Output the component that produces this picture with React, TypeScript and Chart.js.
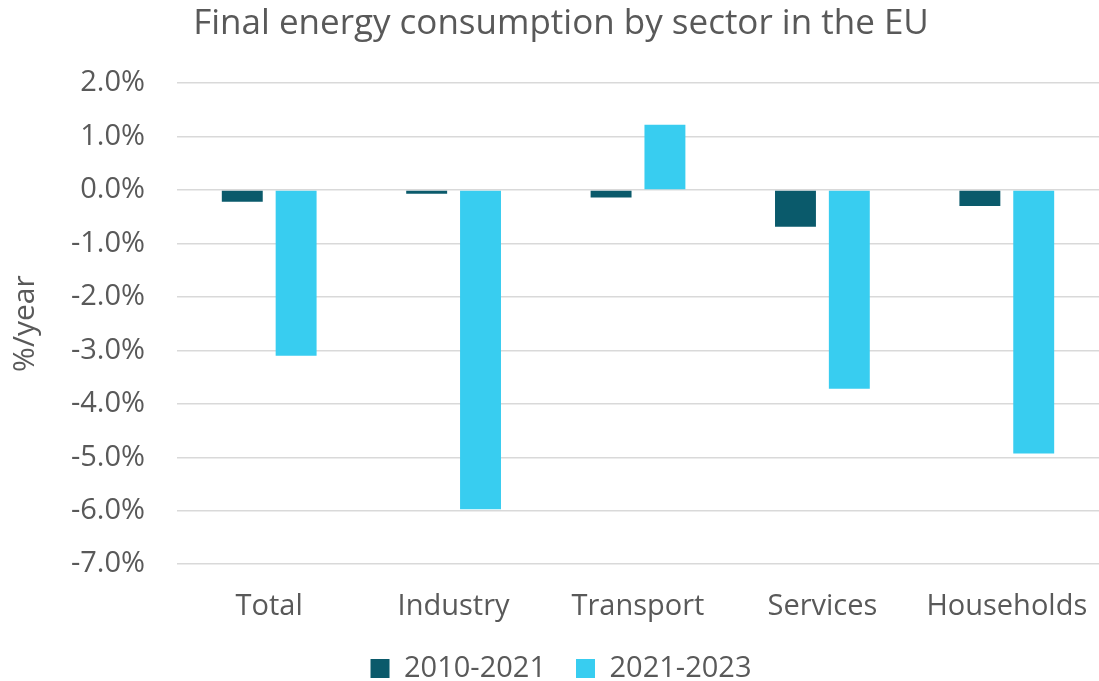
import React, { useEffect, useRef } from "react";
import { Chart, registerables } from "chart.js";

Chart.register(...registerables);

const categories = ["Total", "Industry", "Transport", "Services", "Households"];
const series2010_2021 = [-0.22, -0.07, -0.14, -0.69, -0.3];
const series2021_2023 = [-3.1, -5.97, 1.22, -3.72, -4.93];
const seriesLabels = ["2010-2021", "2021-2023"];
const colors = ["#0a5a6b", "#38cdf0"];

export default function App() {
  const ref = useRef<HTMLCanvasElement | null>(null);
  useEffect(() => {
    document.body.style.margin = "0";
    const ctx = ref.current!;
    const font = "'Open Sans', sans-serif";
    const grey = "#595959";
    const chart = new Chart(ctx, {
      type: "bar",
      data: {
        labels: categories,
        datasets: [
          {
            label: seriesLabels[0],
            data: series2010_2021,
            backgroundColor: colors[0],
            categoryPercentage: 0.584,
            barPercentage: 0.76,
          },
          {
            label: seriesLabels[1],
            data: series2021_2023,
            backgroundColor: colors[1],
            categoryPercentage: 0.584,
            barPercentage: 0.76,
          },
        ],
      },
      options: {
        animation: false,
        responsive: false,
        maintainAspectRatio: false,
        layout: { padding: { left: 7, right: -16, top: 3, bottom: -12 } },
        plugins: {
          title: {
            display: true,
            text: "Final energy consumption by sector in the EU",
            color: grey,
            font: { family: font, size: 35, weight: "normal" },
            padding: { top: 0, bottom: 38 },
          },
          legend: {
            position: "bottom",
            labels: {
              color: grey,
              font: { family: font, size: 29 },
              boxWidth: 19,
              boxHeight: 19,
              padding: 30,
            },
          },
          tooltip: { enabled: false },
        },
        scales: {
          x: {
            grid: { display: false, tickLength: 25 },
            border: { display: false },
            ticks: { color: grey, font: { family: font, size: 29 }, padding: 0 },
          },
          y: {
            min: -7,
            max: 2,
            afterFit: (scale: any) => {
              scale.width = 170;
            },
            ticks: {
              stepSize: 1,
              color: grey,
              font: { family: font, size: 29 },
              padding: 32,
              callback: (v: any) => Number(v).toFixed(1) + "%",
            },
            grid: { color: "#d9d9d9", lineWidth: 1.5, drawTicks: false },
            border: { display: false },
            title: {
              display: true,
              text: "%/year",
              color: grey,
              font: { family: font, size: 30 },
              padding: { top: 0, bottom: 23 },
            },
          },
        },
      },
    });
    return () => chart.destroy();
  }, []);
  return (
    <div style={{ position: "absolute", left: 0, top: 0, width: 1099, height: 681 }}>
      <canvas ref={ref} width={1099} height={681} style={{ width: 1099, height: 681 }} />
    </div>
  );
}
